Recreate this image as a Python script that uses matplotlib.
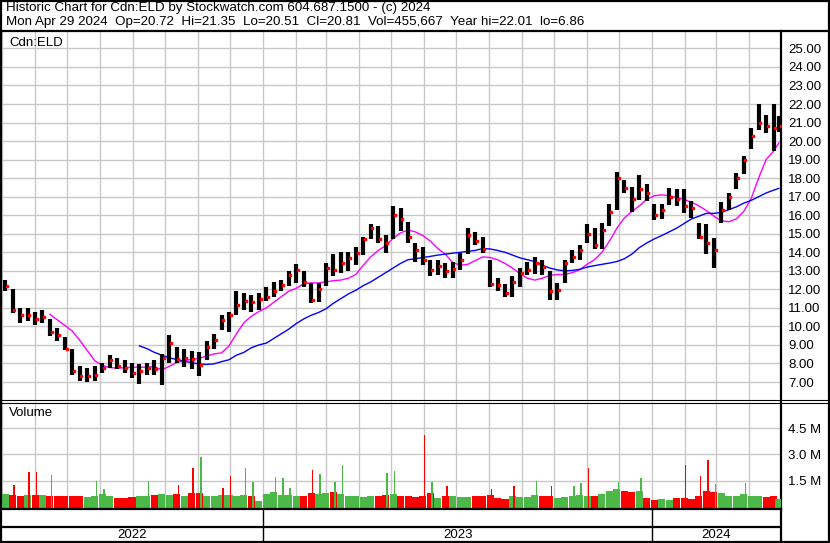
import datetime as dt
import matplotlib
matplotlib.use('Agg')
import matplotlib.pyplot as plt
import matplotlib.dates as mdates
from matplotlib.lines import Line2D
from matplotlib.patches import Rectangle

plt.rcParams['font.family'] = ['Liberation Sans', 'DejaVu Sans']

W, H = 830, 543

# weekly bars: week of May 2 2022 ... Apr 29 2024
hi = [12.5, 12.0, 11.0, 11.0, 10.8, 10.9, 10.4, 9.9, 9.45, 8.8,
      7.85, 7.75, 7.85, 8.0, 8.45, 8.3, 8.2, 8.0, 7.95, 8.0,
      8.2, 8.5, 9.55, 8.9, 8.8, 8.7, 8.6, 9.2, 9.6, 10.6,
      10.8, 11.9, 11.8, 11.7, 11.8, 12.15, 12.4, 12.5, 13.0, 13.35,
      13.0, 12.35, 12.35, 13.4, 13.9, 14.0, 14.0, 14.3, 14.85, 15.5,
      15.4, 14.95, 16.5, 16.4, 15.65, 14.5, 14.3, 13.6, 13.6, 13.4,
      13.5, 13.95, 15.3, 15.1, 14.8, 13.6, 12.6, 12.3, 12.7, 13.15,
      13.5, 13.75, 13.6, 13.0, 12.35, 13.6, 14.1, 14.4, 15.55, 15.3,
      15.6, 16.6, 18.35, 17.9, 17.5, 18.15, 17.7, 16.6, 16.6, 17.45,
      17.4, 17.4, 16.75, 15.6, 15.5, 14.75, 16.7, 17.2, 18.3, 19.2,
      20.7, 22.01, 21.4, 22.0, 21.35]
lo = [11.9, 10.7, 10.2, 10.3, 10.1, 10.2, 9.5, 9.2, 8.75, 7.4,
      7.05, 7.0, 7.05, 7.5, 7.75, 7.7, 7.5, 7.2, 6.9, 7.4,
      7.4, 6.86, 8.0, 8.0, 7.8, 7.7, 7.3, 8.2, 8.8, 9.8,
      9.7, 10.6, 10.9, 10.8, 10.9, 11.35, 11.6, 11.9, 12.2, 12.35,
      12.15, 11.25, 11.3, 12.2, 12.7, 12.9, 13.0, 13.3, 13.85, 14.7,
      14.5, 13.95, 14.7, 15.15, 14.5, 13.5, 13.3, 12.7, 12.8, 12.6,
      12.6, 13.05, 13.9, 14.4, 13.95, 12.15, 11.9, 11.6, 11.6, 12.15,
      12.8, 12.85, 12.8, 11.45, 11.4, 12.35, 13.4, 13.6, 14.5, 14.2,
      14.2, 15.4, 16.3, 17.2, 16.2, 16.8, 16.75, 15.75, 15.8, 16.55,
      16.5, 16.1, 15.85, 14.7, 13.9, 13.15, 15.6, 16.3, 17.4, 18.2,
      19.55, 20.6, 20.45, 19.45, 20.51]
cl = [12.2, 10.9, 10.6, 10.6, 10.4, 10.5, 9.7, 9.55, 8.8, 7.6,
      7.3, 7.3, 7.4, 7.75, 8.2, 7.85, 7.75, 7.5, 7.6, 7.75,
      7.7, 8.3, 9.1, 8.25, 8.3, 8.25, 7.9, 8.9, 9.25, 10.35,
      10.6, 11.15, 11.35, 11.3, 11.5, 11.6, 11.9, 12.25, 12.8, 13.05,
      12.4, 11.45, 12.0, 13.15, 13.05, 13.4, 13.7, 13.95, 14.7, 15.3,
      14.7, 14.5, 16.0, 15.8, 14.8, 14.1, 13.6, 13.05, 13.25, 13.0,
      13.1, 13.6, 14.95, 14.6, 14.2, 12.3, 12.25, 11.8, 12.4, 12.9,
      13.05, 13.4, 13.2, 11.9, 11.95, 13.4, 13.75, 14.1, 15.0, 14.4,
      15.2, 16.2, 18.0, 17.45, 16.9, 17.4, 17.2, 16.0, 16.3, 17.0,
      16.9, 16.5, 16.4, 14.85, 14.5, 14.15, 16.3, 17.0, 18.0, 19.0,
      20.25, 21.0, 20.8, 20.7, 20.81]

# moving averages (magenta from week 6, blue from week 18)
ma_short = [10.65, 10.35, 10.05, 9.75, 9.25, 8.7, 8.15, 7.9, 7.78, 7.75,
            7.77, 7.8, 7.8, 7.8, 7.83, 7.65, 7.85, 8.05, 8.15, 8.22,
            8.28, 8.4, 8.52, 8.57, 8.95, 9.6, 10.2, 10.55, 10.8, 11.0,
            11.3, 11.6, 11.9, 12.05, 12.3, 12.35, 12.35, 12.4, 12.47, 12.5,
            12.6, 12.8, 13.3, 13.75, 14.1, 14.35, 14.75, 15.05, 15.2, 15.1,
            14.9, 14.6, 14.2, 13.9, 13.45, 13.3, 13.35, 13.55, 13.75, 13.72,
            13.6, 13.4, 13.15, 12.85, 12.6, 12.5, 12.6, 12.75, 12.8, 12.8,
            12.9, 13.05, 13.35, 13.6, 14.0, 14.6, 15.3, 15.85, 16.2, 16.5,
            16.85, 17.05, 17.1, 17.05, 16.95, 16.85, 16.7, 16.5, 16.25, 15.95,
            15.7, 15.65, 15.8, 16.2, 16.9, 18.0, 19.0, 19.45, 19.9]
ma_long = [8.95, 8.8, 8.6, 8.45, 8.3, 8.22, 8.12, 8.05, 7.97, 7.95,
           7.98, 8.1, 8.2, 8.45, 8.6, 8.85, 9.0, 9.1, 9.35, 9.6,
           9.85, 10.15, 10.4, 10.6, 10.75, 10.95, 11.25, 11.5, 11.75, 11.95,
           12.2, 12.4, 12.65, 12.9, 13.15, 13.4, 13.6, 13.65, 13.72, 13.78,
           13.85, 13.9, 13.95, 14.0, 14.05, 14.1, 14.2, 14.18, 14.1, 14.0,
           13.85, 13.7, 13.6, 13.5, 13.3, 13.15, 13.05, 13.0, 13.02, 13.08,
           13.2, 13.28, 13.35, 13.42, 13.5, 13.65, 13.9, 14.25, 14.5, 14.72,
           14.9, 15.1, 15.3, 15.55, 15.8, 15.95, 16.1, 16.1, 16.15, 16.3,
           16.45, 16.65, 16.8, 17.0, 17.2, 17.35, 17.45]

# typical daily volume per week (millions)
vol = [0.75, 0.7, 0.65, 0.7, 0.7, 0.7, 0.65, 0.6, 0.6, 0.65,
       0.6, 0.55, 0.6, 0.75, 0.6, 0.5, 0.5, 0.55, 0.6, 0.65,
       0.7, 0.75, 0.7, 0.75, 0.6, 0.8, 0.8, 0.65, 0.6, 0.7,
       0.7, 0.65, 0.7, 0.6, 0.35, 0.75, 0.85, 0.7, 0.7, 0.6,
       0.6, 0.8, 0.75, 0.8, 0.85, 0.75, 0.6, 0.6, 0.55, 0.6,
       0.6, 0.7, 0.75, 0.65, 0.6, 0.55, 0.6, 0.8, 0.5, 0.6,
       0.65, 0.55, 0.55, 0.6, 0.6, 0.7, 0.5, 0.45, 0.6, 0.55,
       0.55, 0.7, 0.6, 0.6, 0.5, 0.55, 0.65, 0.7, 0.65, 0.6,
       0.75, 0.9, 1.0, 0.9, 0.85, 0.9, 0.5, 0.4, 0.45, 0.4,
       0.5, 0.5, 0.45, 0.6, 0.9, 0.85, 0.8, 0.6, 0.6, 0.75,
       0.6, 0.65, 0.55, 0.6, 0.46]
# single-day volume spikes
spike_week = [1, 3, 4, 6, 12, 13, 19, 23, 25, 26, 29, 30, 32, 33, 36, 37, 38, 41, 42, 44,
              45, 51, 52, 56, 57, 59, 65, 68, 71, 73, 76, 77, 78, 82, 85, 91, 93, 94, 95, 99]
spike_vol = [1.28, 2.0, 2.0, 1.85, 1.5, 1.0, 1.5, 1.28, 2.2, 2.86, 1.1, 1.75, 2.2, 1.4, 1.7,
             1.65, 1.1, 2.1, 1.9, 1.4, 2.37, 1.95, 2.05, 4.1, 1.4, 1.2, 1.0, 1.2, 1.47, 1.2,
             1.2, 1.35, 2.2, 1.45, 1.66, 2.37, 1.75, 2.7, 1.3, 1.37]
spike_col = ['r', 'r', 'r', 'g', 'g', 'g', 'g', 'r', 'r', 'g', 'r', 'r', 'g', 'g', 'g',
             'g', 'g', 'r', 'g', 'g', 'g', 'g', 'g', 'r', 'g', 'r', 'r', 'r', 'g', 'r',
             'g', 'g', 'r', 'g', 'g', 'r', 'r', 'r', 'g', 'g']

price_ticks = list(range(7, 26))
vol_ticks = [1.5, 3.0, 4.5]
years = ['2022', '2023', '2024']

RED = '#ff0000'
GREEN = '#4cb847'
GRID = '#c8c8c8'

first = dt.date(2022, 5, 4)
weeks = [first + dt.timedelta(days=7 * i) for i in range(len(cl))]
weeks[-1] = dt.date(2024, 4, 29)
x = mdates.date2num(weeks)
x0 = mdates.date2num(dt.date(2022, 5, 1))
x1 = mdates.date2num(dt.date(2024, 5, 1))


def fx(px):
    return px / W


def fy(py):
    return 1 - py / H


fig = plt.figure(figsize=(W / 100, H / 100), dpi=100)

# title
fig.text(fx(6), fy(8.5), 'Historic Chart for Cdn:ELD by Stockwatch.com 604.687.1500 - (c) 2024',
         fontsize=9.6, va='center')
fig.text(fx(6), fy(21.5), 'Mon Apr 29 2024  Op=20.72  Hi=21.35  Lo=20.51  Cl=20.81  '
         'Vol=455,667  Year hi=22.01  lo=6.86', fontsize=9.6, va='center')


def style(ax, ylim, ticks, labels):
    ax.set_xlim(x0, x1)
    ax.set_ylim(*ylim)
    ax.xaxis.set_major_locator(mdates.MonthLocator())
    ax.set_xticklabels([])
    ax.yaxis.tick_right()
    ax.set_yticks(ticks)
    ax.set_yticklabels(labels, fontsize=9.5)
    ax.tick_params(length=0, pad=5)
    ax.grid(True, color=GRID, linewidth=1)
    ax.set_axisbelow(True)
    for s in ['left', 'top', 'bottom']:
        ax.spines[s].set_visible(False)
    ax.spines['right'].set_linewidth(1.6)


# price panel
ax = fig.add_axes([fx(2), fy(400), fx(781) - fx(2), fy(31) - fy(400)])
style(ax, (6.03, 25.94), price_ticks, ['%.2f' % t for t in price_ticks])
ax.plot(x[6:], ma_short, color='#ff00ff', linewidth=1, zorder=3)
ax.plot(x[18:], ma_long, color='#0000ff', linewidth=1, zorder=3)
ax.vlines(x, lo, hi, color='black', linewidth=3.0, zorder=4)
ax.plot(x + 1.6, cl, 's', color=RED, markersize=1.8, zorder=5)
ax.text(0.009, 0.968, 'Cdn:ELD', transform=ax.transAxes, fontsize=9.5, va='center')

# volume panel
av = fig.add_axes([fx(2), fy(509), fx(781) - fx(2), fy(402) - fy(509)])
style(av, (-0.12, 6.0), vol_ticks, ['%.1f M' % t for t in vol_ticks])
cols = [GREEN] + [GREEN if cl[i] >= cl[i - 1] else RED for i in range(1, len(cl))]
av.bar(x, [v + 0.12 for v in vol], width=6.6, bottom=-0.12, color=cols, zorder=3)
sx = [x[w] + 1.5 for w in spike_week]
sc = [RED if c == 'r' else GREEN for c in spike_col]
av.bar(sx, [v + 0.12 for v in spike_vol], width=1.5, bottom=-0.12, color=sc, zorder=4)
av.text(0.009, 0.9, 'Volume', transform=av.transAxes, fontsize=9.5, va='center')

# year strip
ay = fig.add_axes([fx(2), fy(541), fx(781) - fx(2), fy(509) - fy(541)])
ay.set_xlim(x0, x1)
ay.set_ylim(0, 1)
ay.set_xticks([])
ay.set_yticks([])
for s in ['left', 'bottom']:
    ay.spines[s].set_visible(False)
ay.spines['right'].set_linewidth(1.6)
ay.spines['top'].set_linewidth(1.6)
ay.axhline((541 - 527) / 32, color='black', linewidth=1.6)
bounds = [x0, mdates.date2num(dt.date(2023, 1, 1)), mdates.date2num(dt.date(2024, 1, 1)), x1]
for b in bounds[1:3]:
    ay.axvline(b, color='black', linewidth=1)
for i, yr in enumerate(years):
    ay.text((bounds[i] + bounds[i + 1]) / 2, (541 - 534.5) / 32, yr, ha='center', va='center',
            fontsize=9.5)

# frame lines
fig.add_artist(Line2D([0, 1], [fy(31), fy(31)], color='black', linewidth=1.6))
fig.add_artist(Line2D([0, 1], [fy(400), fy(400)], color='black', linewidth=0.8))
fig.add_artist(Line2D([0, 1], [fy(402.5), fy(402.5)], color='black', linewidth=0.8))
fig.add_artist(Rectangle((fx(1), fy(542)), fx(828), fy(1) - fy(542), fill=False,
                         edgecolor='black', linewidth=1.6))

fig.savefig('out.png', dpi=100)
